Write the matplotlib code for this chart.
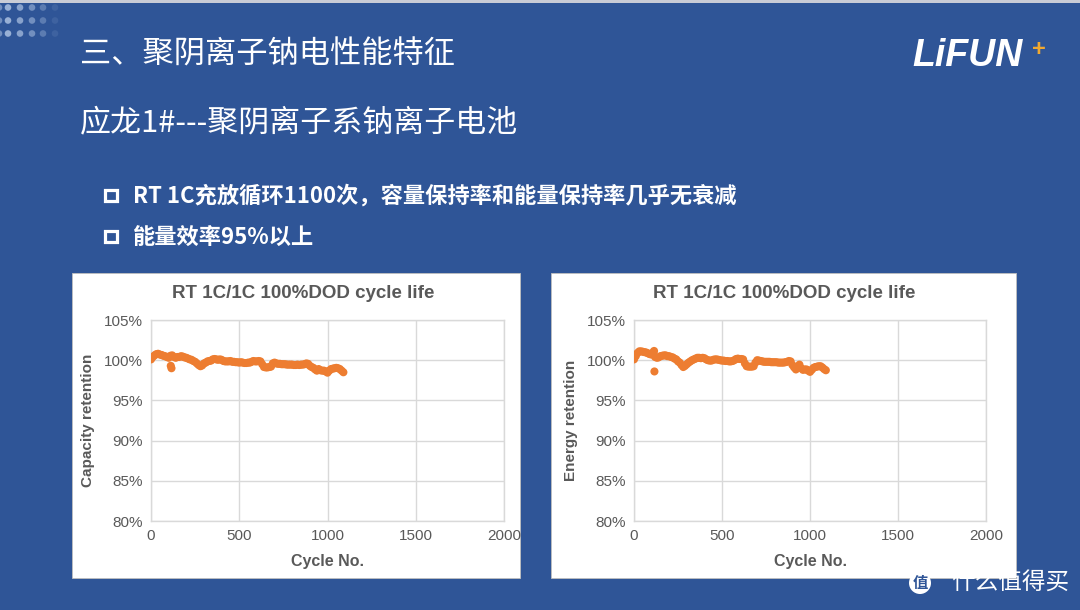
import matplotlib
matplotlib.use("Agg")
import matplotlib.pyplot as plt
from matplotlib.patches import Rectangle, Circle
from matplotlib.ticker import FuncFormatter

# ---------------- data ----------------
cycles = list(range(0, 1100, 10))
capacity = [100.1, 100.4, 100.6, 100.75, 100.8, 100.7, 100.65, 100.55, 100.5, 100.4,
            100.3, 100.55, 100.6, 100.4, 100.3, 100.4, 100.4, 100.5, 100.45, 100.35,
            100.3, 100.2, 100.1, 100.05, 99.9, 99.8, 99.6, 99.4, 99.25, 99.35,
            99.6, 99.7, 99.85, 99.9, 99.95, 100.1, 100.15, 100.1, 100.05, 100.1,
            100.05, 99.9, 99.85, 99.85, 99.85, 99.9, 99.8, 99.8, 99.75, 99.75,
            99.7, 99.75, 99.7, 99.65, 99.65, 99.7, 99.7, 99.8, 99.9, 99.85,
            99.85, 99.9, 99.85, 99.5, 99.15, 99.1, 99.1, 99.15, 99.2, 99.6,
            99.7, 99.6, 99.55, 99.55, 99.5, 99.5, 99.5, 99.45, 99.45, 99.45,
            99.45, 99.4, 99.4, 99.45, 99.4, 99.45, 99.45, 99.5, 99.6, 99.55,
            99.3, 99.15, 99.05, 98.85, 98.7, 98.9, 98.75, 98.7, 98.7, 98.6,
            98.45, 98.7, 98.9, 98.95, 99.0, 99.05, 99.0, 98.9, 98.7, 98.5]
energy = [100.1, 100.5, 100.9, 101.1, 101.1, 101.05, 101.0, 100.95, 100.85, 100.75,
          100.7, 101.0, 100.4, 100.3, 100.35, 100.5, 100.55, 100.6, 100.6, 100.5,
          100.5, 100.4, 100.35, 100.2, 100.1, 99.85, 99.7, 99.4, 99.15, 99.3,
          99.5, 99.7, 99.85, 100.0, 100.1, 100.2, 100.3, 100.3, 100.25, 100.3,
          100.25, 100.1, 100.0, 99.95, 99.95, 100.05, 100.1, 100.1, 100.05, 100.0,
          99.95, 99.95, 99.9, 99.9, 99.85, 99.85, 99.9, 100.0, 100.15, 100.2,
          100.15, 100.15, 100.1, 99.6, 99.25, 99.2, 99.2, 99.2, 99.25, 99.7,
          100.0, 99.95, 99.9, 99.85, 99.8, 99.8, 99.8, 99.8, 99.75, 99.75,
          99.75, 99.75, 99.7, 99.7, 99.7, 99.7, 99.75, 99.8, 99.9, 99.85,
          99.4, 99.1, 98.85, 99.2, 99.45, 99.0, 98.8, 98.85, 98.85, 98.7,
          98.55, 98.8, 99.05, 99.15, 99.2, 99.25, 99.25, 99.1, 98.9, 98.75]
cap_extra_cycles = [112, 116]
cap_extra = [99.3, 99.0]
energy_extra_cycles = [114, 116]
energy_extra = [101.15, 98.6]

x_ticks = [0, 500, 1000, 1500, 2000]
y_ticks = [80, 85, 90, 95, 100, 105]

chart_title = "RT 1C/1C 100%DOD cycle life"
x_label = "Cycle No."
y_labels = ["Capacity retention", "Energy retention"]

page_title = "三、聚阴离子钠电性能特征"
page_subtitle = "应龙1#---聚阴离子系钠离子电池"
bullets = ["RT 1C充放循环1100次，容量保持率和能量保持率几乎无衰减",
           "能量效率95%以上"]

# ---------------- style ----------------
BG = "#2F5597"
ORANGE = "#ED7D31"
GRAY_TXT = "#595959"
GRID = "#D9D9D9"
CJK = ["Noto Sans CJK SC", "DejaVu Sans"]
LAT = ["Liberation Sans", "DejaVu Sans"]

W, H = 1080, 610
fig = plt.figure(figsize=(W / 100, H / 100), dpi=100)
fig.patch.set_facecolor(BG)

bg = fig.add_axes([0, 0, 1, 1])
bg.set_xlim(0, W)
bg.set_ylim(H, 0)
bg.axis("off")
bg.set_zorder(0)

# top thin gray stripe
bg.add_patch(Rectangle((0, 0), W, 2.5, facecolor="#C9CCD6", edgecolor="none"))

# decorative dots
dot_cols = [-1, 8, 20, 32, 43, 55]
dot_alpha = [0.45, 0.7, 0.6, 0.45, 0.3, 0.1]
for yy in [7.5, 20.5, 33.5]:
    for xx, a in zip(dot_cols, dot_alpha):
        bg.add_patch(Circle((xx, yy), 3.3, facecolor="#C5D7F0", edgecolor="none", alpha=a))

# titles
bg.text(80, 55, page_title, color="white", fontsize=22.5, family=CJK,
        ha="left", va="center")
bg.text(80, 123, page_subtitle, color="white", fontsize=22.3, family=CJK,
        fontweight="medium", ha="left", va="center")

# bullets
for yy, txt in zip([196, 237], bullets):
    bg.add_patch(Rectangle((105, yy - 6.5), 11.5, 11.5, facecolor="none",
                           edgecolor="white", linewidth=2.3))
    bg.text(133, yy, txt, color="white", fontsize=16, family=CJK,
            fontweight="bold", ha="left", va="center")

# logo
bg.text(912, 56, "LiFUN", color="white", fontsize=27, family=LAT,
        fontweight="bold", fontstyle="italic", ha="left", va="center")
bg.text(1032, 49, "+", color="#F0A830", fontsize=17, family=LAT,
        fontweight="bold", ha="left", va="center")

# chart panels
panels = [(72, 273, 448, 305), (551, 273, 465, 305)]
for (px, py, pw, ph) in panels:
    bg.add_patch(Rectangle((px, py), pw, ph, facecolor="white", edgecolor="#BFBFBF",
                           linewidth=0.6))

# watermark
bg.add_patch(Circle((920, 583), 11, facecolor="white", edgecolor="none", zorder=5))
bg.text(920, 583, "值", color=BG, fontsize=11, family=CJK, fontweight="bold",
        ha="center", va="center", zorder=6)
bg.text(951, 583, "什么值得买", color="white", fontsize=17, family=CJK,
        ha="left", va="center", zorder=6)

# chart axes
axes_px = [(151, 320, 353, 201), (634, 320, 352, 201)]
series = [(capacity, cap_extra_cycles, cap_extra), (energy, energy_extra_cycles, energy_extra)]
title_x = [303, 784]

for (ax_x, ax_y, ax_w, ax_h), (vals, ex_c, ex_v), ylab, tx in zip(axes_px, series, y_labels, title_x):
    ax = fig.add_axes([ax_x / W, 1 - (ax_y + ax_h) / H, ax_w / W, ax_h / H])
    ax.set_zorder(2)
    ax.set_facecolor("white")
    ax.scatter(cycles, vals, s=34, color=ORANGE, edgecolors="none", zorder=3)
    ax.scatter(ex_c, ex_v, s=34, color=ORANGE, edgecolors="none", zorder=3)
    ax.set_xlim(0, 2000)
    ax.set_ylim(80, 105)
    ax.set_xticks(x_ticks)
    ax.set_yticks(y_ticks)
    ax.yaxis.set_major_formatter(FuncFormatter(lambda v, p: f"{v:.0f}%"))
    ax.grid(True, color=GRID, linewidth=1.0)
    ax.set_axisbelow(True)
    for s in ax.spines.values():
        s.set_color(GRID)
        s.set_linewidth(1.0)
    ax.tick_params(length=0, labelsize=11, labelcolor=GRAY_TXT, pad=6)
    for lbl in ax.get_xticklabels() + ax.get_yticklabels():
        lbl.set_family(LAT)
    ax.set_xlabel(x_label, fontsize=11.5, fontweight="bold", color=GRAY_TXT,
                  family=LAT, labelpad=8)
    ax.set_ylabel(ylab, fontsize=11, fontweight="bold", color=GRAY_TXT,
                  family=LAT, labelpad=6)
    bg.text(tx, 293, chart_title, fontsize=13.5, fontweight="bold", color=GRAY_TXT,
            family=LAT, ha="center", va="center")

fig.savefig("out.png", dpi=100, facecolor=BG)
